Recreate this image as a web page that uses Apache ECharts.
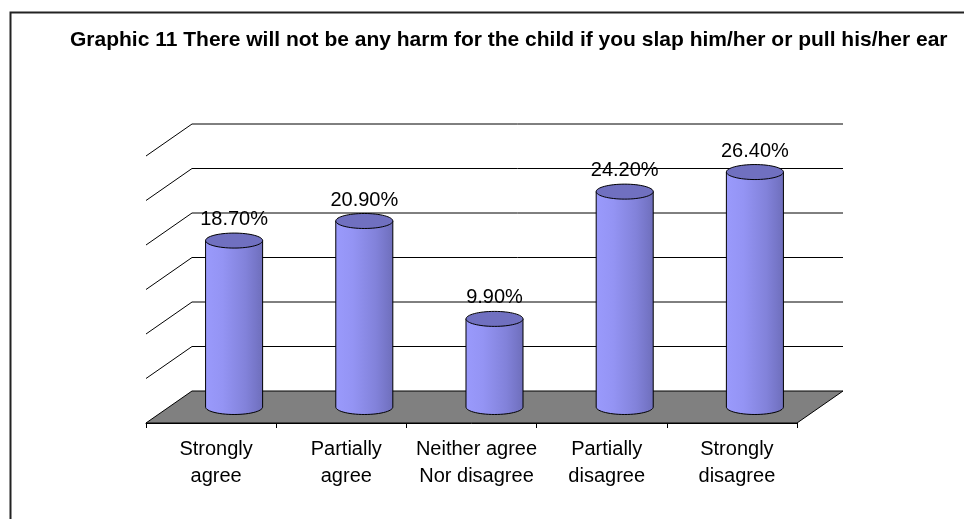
<!DOCTYPE html>
<html>
<head>
<meta charset="utf-8">
<script src="https://cdn.jsdelivr.net/npm/echarts@6/dist/echarts.min.js"></script>
<style>html,body{margin:0;padding:0;background:#fff}#c{width:964px;height:519px}</style>
</head>
<body>
<div id="c"></div>
<script>
const titleText = 'Graphic 11 There will not be any harm for the child if you slap him/her or pull his/her ear';
const categories = ['Strongly\nagree', 'Partially\nagree', 'Neither agree\nNor disagree', 'Partially\ndisagree', 'Strongly\ndisagree'];
const values = [18.7, 20.9, 9.9, 24.2, 26.4];
const yTicks = [0, 5, 10, 15, 20, 25, 30];

const DX = 46, DY = -32; // depth offset of the back wall
const FONT = '"Liberation Sans", Arial, sans-serif';

const chart = echarts.init(document.getElementById('c'));

function frameRender(params, api) {
  const cs = params.coordSys;
  const x0 = cs.x, x1 = cs.x + cs.width;
  const y0 = api.coord([0, 0])[1];
  const children = [];
  children.push({
    type: 'polygon',
    shape: { points: [[x0, y0], [x1, y0], [x1 + DX, y0 + DY], [x0 + DX, y0 + DY]] },
    style: { fill: '#808080', stroke: '#000', lineWidth: 1 }
  });
  yTicks.forEach(function (t) {
    if (t === 0) return;
    const y = api.coord([0, t])[1];
    children.push({
      type: 'line',
      shape: { x1: x0 + DX, y1: y + DY, x2: x1 + DX, y2: y + DY },
      style: { stroke: '#000', lineWidth: 1 }
    });
    children.push({
      type: 'line',
      shape: { x1: x0, y1: y, x2: x0 + DX, y2: y + DY },
      style: { stroke: '#000', lineWidth: 1 }
    });
  });
  return { type: 'group', children: children };
}

function cylRender(params, api) {
  const i = api.value(0), v = api.value(1);
  const top = api.coord([i, v]);
  const base = api.coord([i, 0]);
  const band = api.size([1, 0])[0];
  const r = band * 0.219;
  const ry = 7.5;
  const cx = top[0] + DX / 2;
  const ty = top[1] + DY / 2;
  const by = base[1] + DY / 2;
  const pts = [[cx - r, ty], [cx - r, by]];
  const N = 30;
  for (let k = 1; k < N; k++) {
    const a = Math.PI - Math.PI * k / N;
    pts.push([cx + r * Math.cos(a), by + ry * Math.sin(a)]);
  }
  pts.push([cx + r, by]);
  pts.push([cx + r, ty]);
  return {
    type: 'group',
    children: [
      {
        type: 'polygon',
        shape: { points: pts },
        style: {
          fill: new echarts.graphic.LinearGradient(0, 0, 1, 0, [
            { offset: 0, color: '#9a9afc' },
            { offset: 0.3, color: '#9494f4' },
            { offset: 0.7, color: '#8282da' },
            { offset: 0.88, color: '#7676c8' },
            { offset: 1, color: '#6e6eba' }
          ]),
          stroke: '#000', lineWidth: 1
        }
      },
      {
        type: 'ellipse',
        shape: { cx: cx, cy: ty, rx: r, ry: ry },
        style: { fill: '#7070c0', stroke: '#000', lineWidth: 1 }
      },
      {
        type: 'text',
        style: {
          text: v.toFixed(2) + '%',
          x: cx, y: ty - 21,
          align: 'center', verticalAlign: 'middle',
          font: '20px ' + FONT, fill: '#000'
        }
      }
    ]
  };
}

chart.setOption({
  backgroundColor: '#fff',
  animation: false,
  title: {
    text: titleText,
    left: 70, top: 30, padding: 0,
    textStyle: { fontFamily: FONT, fontSize: 21, fontWeight: 'bold', color: '#000' }
  },
  graphic: [{
    type: 'rect', left: 8, top: 10, z: -10,
    shape: { width: 1100, height: 700 },
    style: { fill: 'none', stroke: '#222', lineWidth: 2 }
  }],
  grid: { left: 146, right: 167, top: 156, bottom: 96 },
  xAxis: {
    type: 'category',
    data: categories,
    axisLine: { show: true, lineStyle: { color: '#000', width: 1 } },
    axisTick: { show: true, length: 5, lineStyle: { color: '#000' } },
    axisLabel: {
      interval: 0, hideOverlap: false,
      margin: 13, fontFamily: FONT, fontSize: 20, lineHeight: 27, color: '#000',
      padding: [0, 0, 0, 10]
    },
    splitLine: { show: false }
  },
  yAxis: {
    type: 'value', min: 0, max: 30, interval: 5,
    show: false, splitLine: { show: false }
  },
  series: [
    {
      type: 'custom', z: 1, silent: true, clip: false,
      renderItem: frameRender,
      data: [[0, 0]]
    },
    {
      type: 'custom', z: 3, clip: false,
      renderItem: cylRender,
      data: values.map(function (v, i) { return [i, v]; })
    }
  ]
});
</script>
</body>
</html>
